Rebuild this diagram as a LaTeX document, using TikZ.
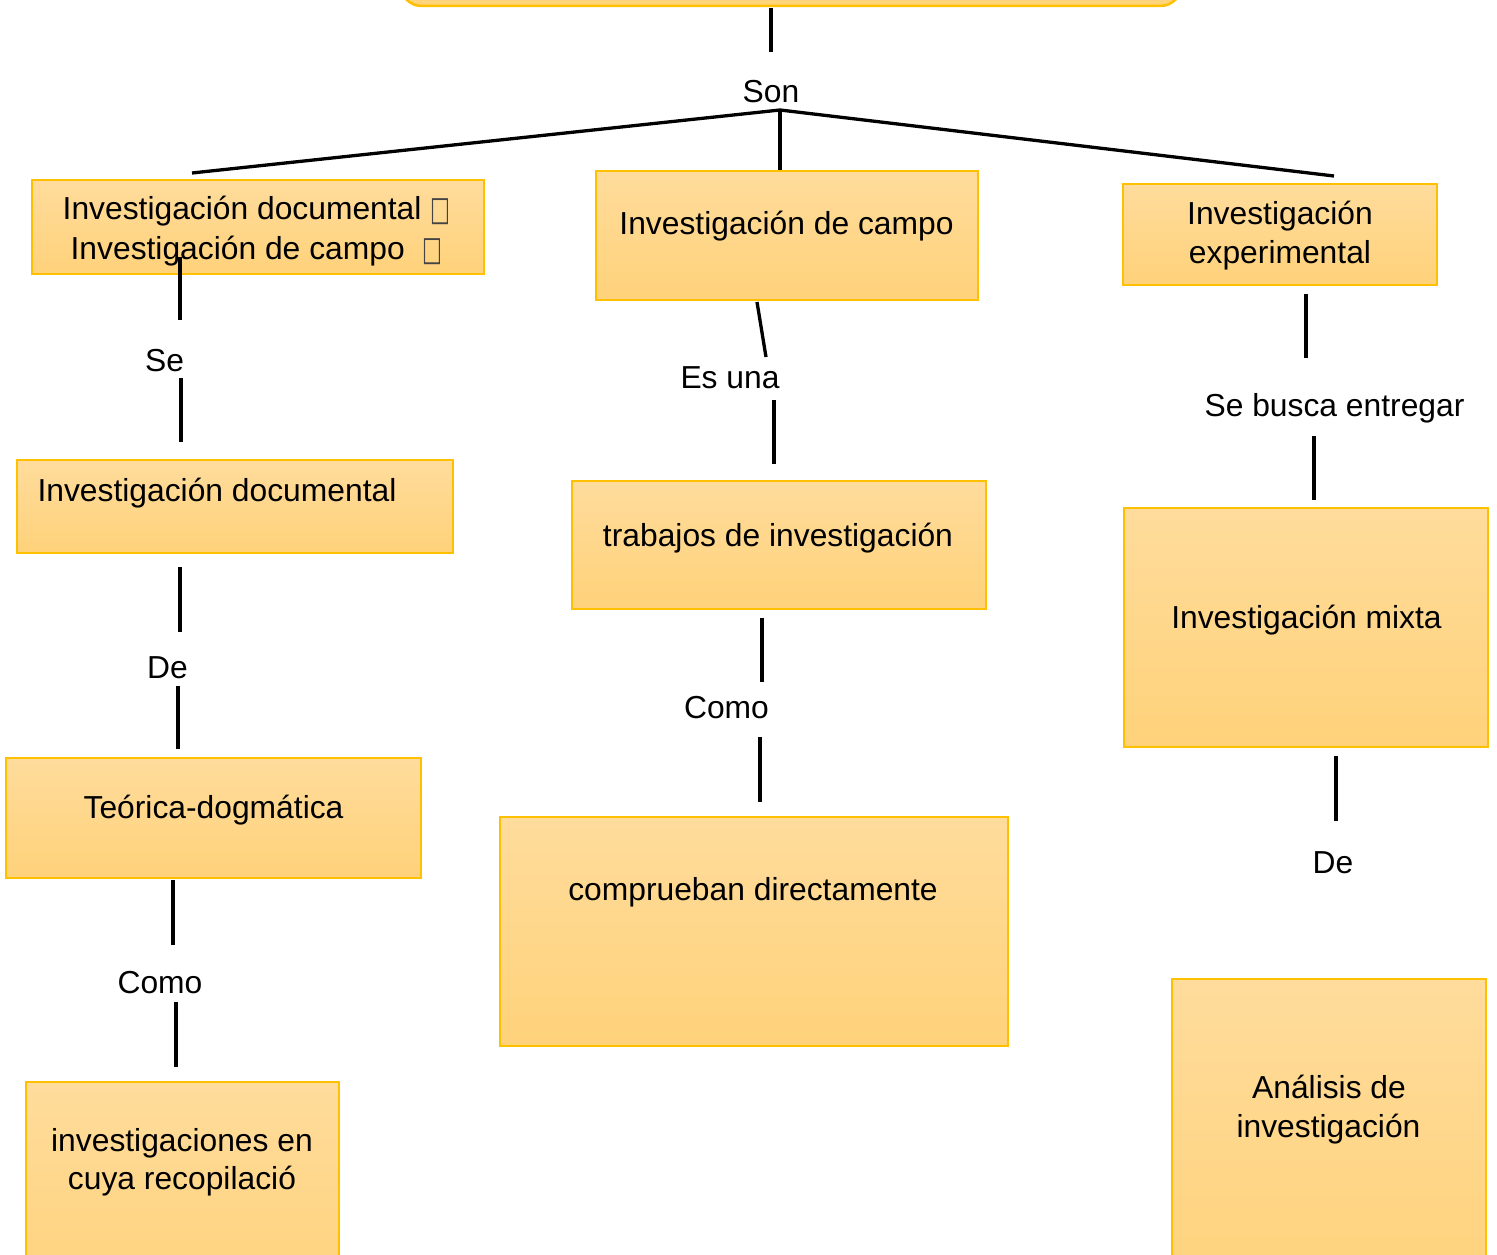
\documentclass[tikz,border=0pt]{standalone}
\usepackage{fontspec}
\setmainfont{Liberation Sans}
\newfontfamily\dejavu{DejaVu Sans}
\definecolor{boxtop}{HTML}{FFDC9C}
\definecolor{boxbot}{HTML}{FFD27A}
\definecolor{boxline}{HTML}{FFC000}
\definecolor{topfill}{HTML}{FFD47A}
\definecolor{tofucol}{HTML}{444444}
\newcommand{\tofu}{\raisebox{-1.5pt}{\scalebox{0.62}[1]{\color{tofucol}\dejavu\fontsize{34pt}{34pt}\selectfont □}}}
\tikzset{
  cbox/.style={rectangle, draw=boxline, line width=1.5pt, top color=boxtop, bottom color=boxbot, inner sep=0pt, outer sep=0pt},
  txt/.style={anchor=base, inner sep=0pt, font=\fontsize{31.8pt}{38pt}\selectfont},
  conn/.style={line width=3.3pt, black},
}
\begin{document}
\begin{tikzpicture}[x=1pt, y=-1pt]
\useasboundingbox (0,0) rectangle (1497,1255);
\clip (0,0) rectangle (1497,1255);
% top box
\draw[draw=boxline, fill=topfill, line width=2.5pt, rounded corners=22pt] (400,-100) rectangle (1182,6);
\coordinate (tb) at (771,8);
\coordinate (tb2) at (771,52);
\node[txt] (son) at (771,102.4) {Son};
\coordinate (jn) at (780,110);
\coordinate (jl) at (192,173);
\coordinate (jm) at (780,170);
\coordinate (jr) at (1334,176);
\draw[conn] (tb) -- (tb2);
\draw[conn] (jl) -- (jn) -- (jr);
\draw[conn] (jn) -- (jm);

% boxes
\node[cbox, minimum width=452pt, minimum height=94pt] (A) at (258,227) {};
\node[cbox, minimum width=436pt, minimum height=93pt] (B) at (235,506.5) {};
\node[cbox, minimum width=415pt, minimum height=120pt] (C) at (213.5,818) {};
\node[cbox, minimum width=313pt, minimum height=228pt] (D) at (182.5,1196) {};
\node[cbox, minimum width=382pt, minimum height=129pt] (E) at (787,235.5) {};
\node[cbox, minimum width=414pt, minimum height=128pt] (F) at (779,545) {};
\node[cbox, minimum width=508pt, minimum height=229pt] (G) at (754,931.5) {};
\node[cbox, minimum width=314pt, minimum height=101pt] (H) at (1280,234.5) {};
\node[cbox, minimum width=364pt, minimum height=239pt] (I) at (1306,627.5) {};
\node[cbox, minimum width=314pt, minimum height=331pt] (J) at (1329,1144.5) {};

% box texts
\node[txt] (A1) at (256.5,219.4) {Investigación documental \tofu};
\node[txt] (A2) at (256.5,259.4) {Investigación de campo\ \ \tofu};
\node[txt] (B1) at (217,501.4) {Investigación documental};
\node[txt] (C1) at (213.5,818.4) {Teórica-dogmática};
\node[txt] (D1) at (182,1151.4) {investigaciones en};
\node[txt] (D2) at (182,1189.4) {cuya recopilació};
\node[txt] (E1) at (786.5,234.4) {Investigación de campo};
\node[txt] (F1) at (778,546.4) {trabajos de investigación};
\node[txt] (G1) at (753,900.4) {comprueban directamente};
\node[txt] (H1) at (1280,224.4) {Investigación};
\node[txt] (H2) at (1280,263.4) {experimental};
\node[txt] (I1) at (1306.5,628.4) {Investigación mixta};
\node[txt] (J1) at (1329,1098.4) {Análisis de};
\node[txt] (J2) at (1328.5,1137.4) {investigación};

% labels
\node[txt] (se) at (164.5,371.4) {Se};
\node[txt] (de1) at (167.5,678.4) {De};
\node[txt] (como1) at (160,993.4) {Como};
\node[txt] (esuna) at (730,388.4) {Es una};
\node[txt] (como2) at (726.5,718.4) {Como};
\node[txt] (sebusca) at (1334.5,416.4) {Se busca entregar};
\node[txt] (de2) at (1333,873.4) {De};

% left column connectors
\coordinate (l1a) at (180,257); \coordinate (l1b) at (180,320);
\coordinate (l2a) at (181,378); \coordinate (l2b) at (181,442);
\coordinate (l3a) at (180,567); \coordinate (l3b) at (180,632);
\coordinate (l4a) at (178,686); \coordinate (l4b) at (178,749);
\coordinate (l5a) at (173,880); \coordinate (l5b) at (173,945);
\coordinate (l6a) at (176,1002); \coordinate (l6b) at (176,1067);
\draw[conn] (l1a) -- (l1b);
\draw[conn] (l2a) -- (l2b);
\draw[conn] (l3a) -- (l3b);
\draw[conn] (l4a) -- (l4b);
\draw[conn] (l5a) -- (l5b);
\draw[conn] (l6a) -- (l6b);
% middle column connectors
\coordinate (m1a) at (757,302); \coordinate (m1b) at (766,357);
\coordinate (m2a) at (774,400); \coordinate (m2b) at (774,464);
\coordinate (m3a) at (762,618); \coordinate (m3b) at (762,682);
\coordinate (m4a) at (760,737); \coordinate (m4b) at (760,802);
\draw[conn] (m1a) -- (m1b);
\draw[conn] (m2a) -- (m2b);
\draw[conn] (m3a) -- (m3b);
\draw[conn] (m4a) -- (m4b);
% right column connectors
\coordinate (r1a) at (1306,294); \coordinate (r1b) at (1306,358);
\coordinate (r2a) at (1314,436); \coordinate (r2b) at (1314,500);
\coordinate (r3a) at (1336,756); \coordinate (r3b) at (1336,821);
\draw[conn] (r1a) -- (r1b);
\draw[conn] (r2a) -- (r2b);
\draw[conn] (r3a) -- (r3b);
\end{tikzpicture}
\end{document}
